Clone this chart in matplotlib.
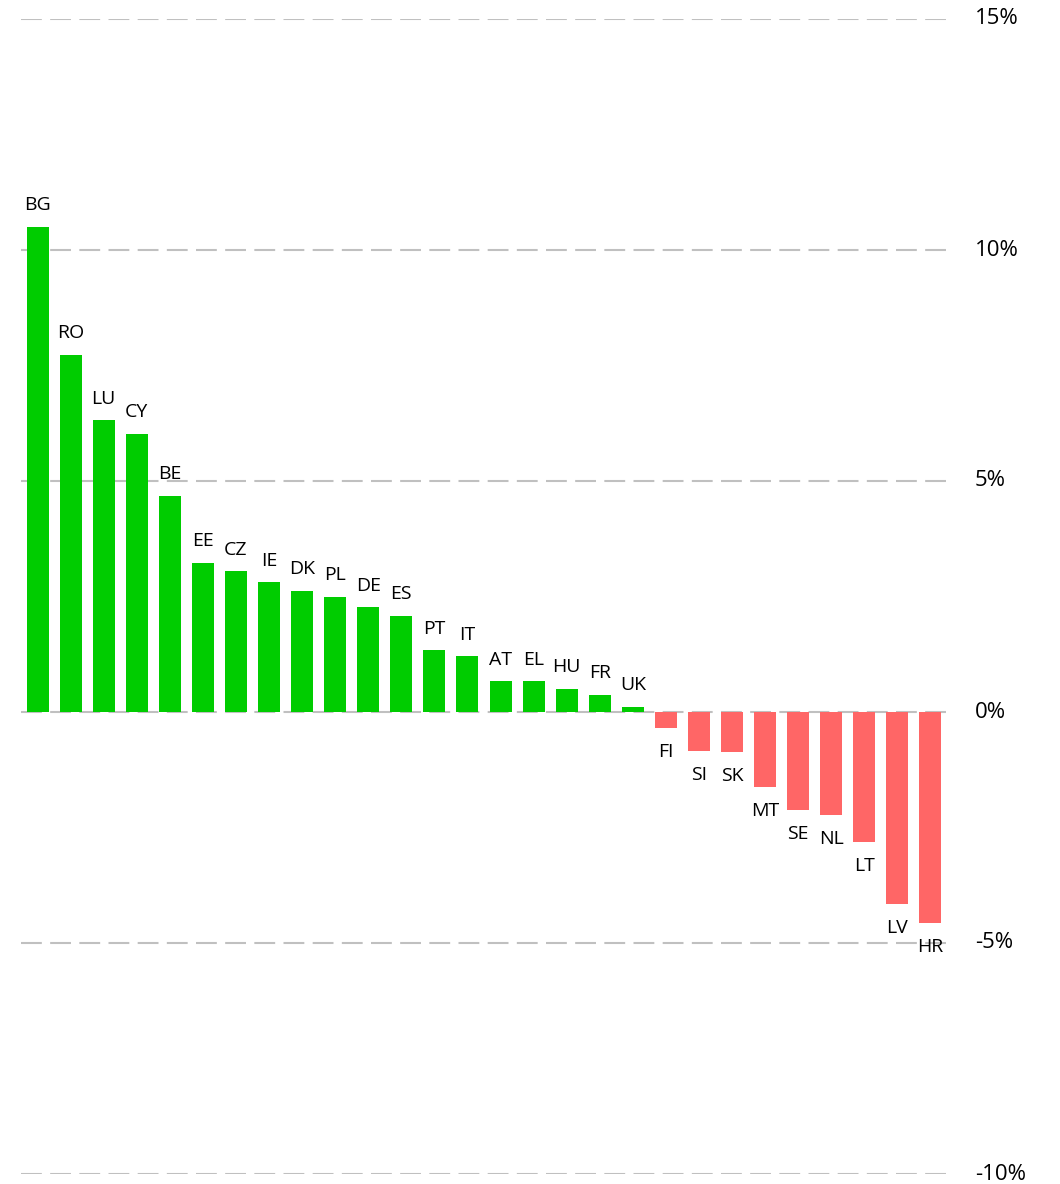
import matplotlib.pyplot as plt
import numpy as np

# country codes and values (%)
countries = ['BG', 'RO', 'LU', 'CY', 'BE', 'EE', 'CZ', 'IE', 'DK', 'PL', 'DE', 'ES',
             'PT', 'IT', 'AT', 'EL', 'HU', 'FR', 'UK', 'FI', 'SI', 'SK', 'MT', 'SE',
             'NL', 'LT', 'LV', 'HR']
values = [10.5, 7.73, 6.32, 6.02, 4.68, 3.23, 3.05, 2.81, 2.62, 2.49, 2.27, 2.08,
          1.34, 1.21, 0.67, 0.67, 0.50, 0.37, 0.11, -0.35, -0.84, -0.87, -1.62, -2.12,
          -2.23, -2.81, -4.16, -4.57]
yticks = [-10, -5, 0, 5, 10, 15]
ytick_labels = ['-10%', '-5%', '0%', '5%', '10%', '15%']

plt.rcParams['font.family'] = ['Open Sans', 'DejaVu Sans']

fig = plt.figure(figsize=(10.6, 11.84), dpi=100)
ax = fig.add_axes([21/1060, 10/1184, 926/1060, 1155/1184])

x = np.arange(len(countries))
colors = ['#00CC00' if v >= 0 else '#FF6666' for v in values]
ax.bar(x, values, width=0.665, color=colors, zorder=3)

# gridlines
for t in yticks:
    ax.axhline(t, color='#c0c0c0', lw=1.5, dashes=(10, 4), zorder=1)

# labels above / below bars
for xi, v, c in zip(x, values, countries):
    if v >= 0:
        ax.annotate(c, (xi, v), xytext=(0, 9), textcoords='offset points',
                    ha='center', va='bottom', fontsize=14)
    else:
        ax.annotate(c, (xi, v), xytext=(0, -11), textcoords='offset points',
                    ha='center', va='top', fontsize=14)

ax.set_xlim(-0.5, len(countries) - 0.5)
ax.set_ylim(-10, 15)
ax.set_xticks([])
ax.yaxis.tick_right()
ax.set_yticks(yticks)
ax.set_yticklabels(ytick_labels, fontsize=16)
for lab in ax.get_yticklabels():
    lab.set_va('center')
ax.tick_params(axis='y', length=0, pad=20)
for s in ax.spines.values():
    s.set_visible(False)

fig.savefig('out.png', dpi=100)
